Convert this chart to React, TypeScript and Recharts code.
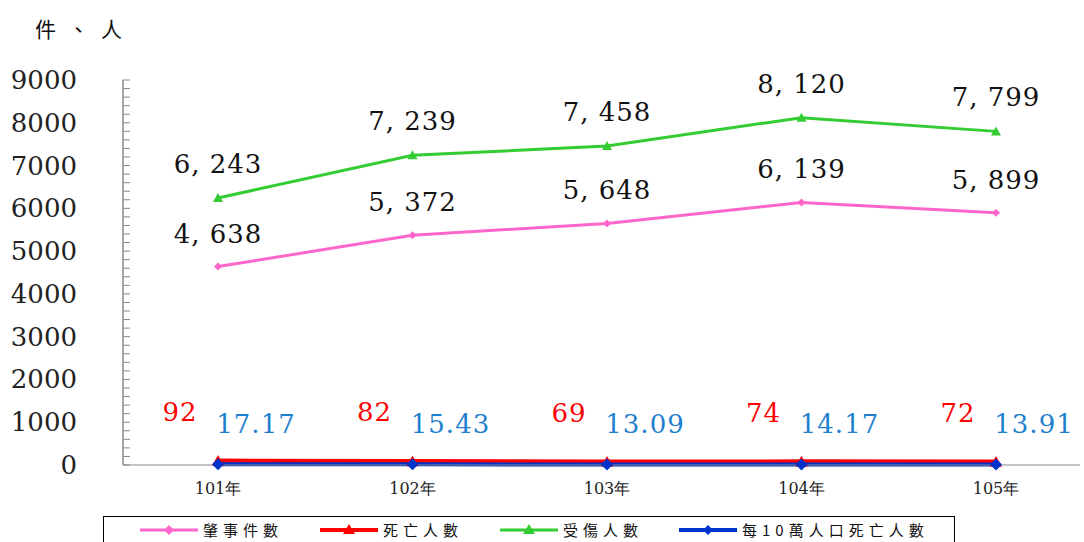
import React from "react"
import { LineChart, Line, XAxis, YAxis, LabelList } from "recharts"

const years = ["101年", "102年", "103年", "104年", "105年"]
const accidents = [4638, 5372, 5648, 6139, 5899]
const deaths = [92, 82, 69, 74, 72]
const injuries = [6243, 7239, 7458, 8120, 7799]
const deathRate = [17.17, 15.43, 13.09, 14.17, 13.91]
const yTicks = Array.from({ length: 46 }, (_, i) => i * 200)

const COLORS = {
  accidents: "#ff66cc",
  deaths: "#ff0000",
  injuries: "#33cc33",
  rate: "#0033cc",
  rateText: "#1e7fcf",
}

const NUM_FONT = "'DejaVu Serif', 'Liberation Serif', serif"
const CJK_FONT = "'Noto Sans CJK TC', 'Noto Sans CJK SC', sans-serif"

const data = years.map((year, i) => ({
  year,
  accidents: accidents[i],
  deaths: deaths[i],
  injuries: injuries[i],
  rate: deathRate[i],
}))

const Diamond = (size: number, color: string) => (props: any) => {
  const { cx, cy } = props
  if (cx == null || cy == null) return null
  return (
    <polygon
      points={`${cx},${cy - size} ${cx + size},${cy} ${cx},${cy + size} ${cx - size},${cy}`}
      fill={color}
    />
  )
}

const Triangle = (size: number, color: string) => (props: any) => {
  const { cx, cy } = props
  if (cx == null || cy == null) return null
  return (
    <polygon
      points={`${cx},${cy - size} ${cx + size},${cy + size * 0.8} ${cx - size},${cy + size * 0.8}`}
      fill={color}
    />
  )
}

const makeLabel = (dx: number, dy: number, color: string, fmt: (v: number) => string) => (props: any) => {
  const { x, y, value } = props
  return (
    <text
      x={x + dx}
      y={y + dy}
      textAnchor="middle"
      dominantBaseline="central"
      fill={color}
      fontSize={26}
      fontFamily={NUM_FONT}
      letterSpacing={1}
    >
      {fmt(value)}
    </text>
  )
}

const thousands = (v: number) => v.toLocaleString("en-US").replace(",", ", ")
const plain = (v: number) => String(v)
const twoDec = (v: number) => v.toFixed(2)

const YTick = (props: any) => {
  const { y, payload } = props
  if (payload.value % 1000 !== 0) return null
  return (
    <text x={77} y={y} textAnchor="end" dominantBaseline="central" fontSize={26} fontFamily={NUM_FONT} fill="#222">
      {payload.value}
    </text>
  )
}

const XTick = (props: any) => {
  const { x, payload } = props
  return (
    <text x={x} y={488} textAnchor="middle" dominantBaseline="central" fontSize={16} fontFamily={NUM_FONT} fill="#222">
      {payload.value}
    </text>
  )
}

const legendItems = [
  { name: "肇事件數", color: COLORS.accidents, marker: "diamond", width: 3, left: 140 },
  { name: "死亡人數", color: COLORS.deaths, marker: "triangle", width: 4, left: 320 },
  { name: "受傷人數", color: COLORS.injuries, marker: "triangle", width: 3, left: 500 },
  { name: "每10萬人口死亡人數", color: COLORS.rate, marker: "diamond", width: 4, left: 679 },
]

function ChartLegend() {
  return (
    <div
      style={{
        position: "absolute",
        left: 103,
        top: 516,
        width: 852,
        height: 40,
        border: "1.5px solid #000",
        boxSizing: "border-box",
      }}
    >
      {legendItems.map((item) => (
        <div
          key={item.name}
          style={{ position: "absolute", left: item.left - 104, top: 3, height: 20, display: "flex", alignItems: "center" }}
        >
          <svg width={58} height={14}>
            <line x1={0} y1={7} x2={58} y2={7} stroke={item.color} strokeWidth={item.width} />
            {item.marker === "diamond" ? (
              <polygon points="29,2 34,7 29,12 24,7" fill={item.color} />
            ) : (
              <polygon points="29,1 35,11 23,11" fill={item.color} />
            )}
          </svg>
          <span
            style={{
              marginLeft: 5,
              fontFamily: CJK_FONT,
              fontSize: 15,
              lineHeight: "20px",
              letterSpacing: 5,
              color: "#111",
              whiteSpace: "nowrap",
            }}
          >
            {item.name}
          </span>
        </div>
      ))}
    </div>
  )
}

export default function App() {
  return (
    <div style={{ position: "absolute", left: 0, top: 0, width: 1084, height: 542, background: "#fff", overflow: "hidden" }}>
      <div
        style={{
          position: "absolute",
          left: 35,
          top: 13,
          fontFamily: CJK_FONT,
          fontSize: 21,
          letterSpacing: 12,
          color: "#111",
        }}
      >
        件、人
      </div>
      <LineChart width={1084} height={542} data={data} margin={{ top: 80, right: 4, bottom: 47, left: 0 }}>
        <XAxis
          dataKey="year"
          height={30}
          padding={{ left: 95, right: 84 }}
          axisLine={{ stroke: "#888", strokeWidth: 1 }}
          tickLine={false}
          tick={<XTick />}
          interval={0}
        />
        <YAxis
          width={123}
          domain={[0, 9000]}
          ticks={yTicks}
          interval={0}
          tickSize={-7}
          axisLine={{ stroke: "#888", strokeWidth: 1.5 }}
          tickLine={{ stroke: "#888", strokeWidth: 1 }}
          tick={<YTick />}
        />
        <Line
          dataKey="accidents"
          stroke={COLORS.accidents}
          strokeWidth={3}
          dot={Diamond(4, COLORS.accidents)}
          activeDot={false}
          isAnimationActive={false}
        >
          <LabelList dataKey="accidents" content={makeLabel(0, -33, "#111", thousands)} />
        </Line>
        <Line
          dataKey="injuries"
          stroke={COLORS.injuries}
          strokeWidth={3}
          dot={Triangle(5, COLORS.injuries)}
          activeDot={false}
          isAnimationActive={false}
        >
          <LabelList dataKey="injuries" content={makeLabel(0, -34, "#111", thousands)} />
        </Line>
        <Line
          dataKey="deaths"
          stroke={COLORS.deaths}
          strokeWidth={5}
          dot={Triangle(6, COLORS.deaths)}
          activeDot={false}
          isAnimationActive={false}
        >
          <LabelList dataKey="deaths" content={makeLabel(-38, -49, COLORS.deaths, plain)} />
        </Line>
        <Line
          dataKey="rate"
          stroke={COLORS.rate}
          strokeWidth={4}
          dot={Diamond(6, COLORS.rate)}
          activeDot={false}
          isAnimationActive={false}
        >
          <LabelList dataKey="rate" content={makeLabel(38, -40, COLORS.rateText, twoDec)} />
        </Line>
      </LineChart>
      <ChartLegend />
    </div>
  )
}
